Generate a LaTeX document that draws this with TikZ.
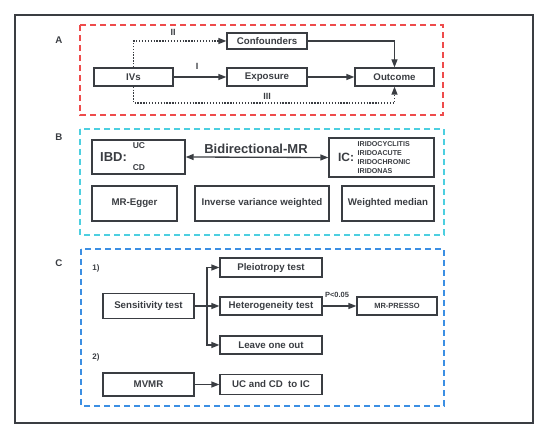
\documentclass[tikz,border=0pt]{standalone}
\usepackage{fontspec}
\setmainfont{Liberation Sans}
\usetikzlibrary{arrows.meta}
\definecolor{fr}{HTML}{3A3D42}
\definecolor{redd}{HTML}{EE4C4C}
\definecolor{cyand}{HTML}{4DCFE0}
\definecolor{blued}{HTML}{3C8FE3}
\begin{document}
\begin{tikzpicture}[x=1pt,y=-1pt,
  bx/.style={draw=fr,line width=1.3pt,inner sep=0pt,font=\fontsize{9.7}{11}\selectfont\bfseries,text=fr},
  lbl/.style={inner sep=0pt,font=\fontsize{9.7}{11}\selectfont\bfseries,text=fr},
  rn/.style={inner sep=0pt,font=\fontsize{9}{10}\rmfamily\bfseries,text=fr},
  con/.style={draw=fr,line width=1.3pt},
  arr/.style={con,-{Triangle[length=8pt,width=6pt]}},
  dotarr/.style={arr,dash pattern=on 1.3pt off 1.6pt},
  sect/.style={line width=1.5pt,dash pattern=on 6pt off 4pt}]
\useasboundingbox (0,0) rectangle (550,438);
\draw[fr,line width=1.3pt] (15,15) rectangle (533,423);
% section frames
\draw[sect,redd] (80,25) rectangle (443,115);
\draw[sect,cyand] (80,129) rectangle (444,235);
\draw[sect,blued] (81,249) rectangle (444,406);
\node[lbl] (lA) at (59,40) {A};
\node[lbl] (lB) at (59,137) {B};
\node[lbl] (lC) at (59,263) {C};
% ---- A
\node[bx,minimum width=79pt,minimum height=18pt] (ivs) at (133.5,77) {IVs};
\node[bx,minimum width=80pt,minimum height=18pt] (exp) at (267,77) {Exposure};
\node[bx,minimum width=79pt,minimum height=18pt] (out) at (394.5,77) {Outcome};
\node[bx,minimum width=80pt,minimum height=16pt] (conf) at (267,41) {Confounders};
\draw[arr] (ivs) -- (exp);
\draw[arr] (exp) -- (out);
\draw[arr] (conf.east) -| (out.north);
\draw[dotarr] (ivs.north) |- (conf.west);
\coordinate (b3) at (133.5,103);
\draw[dotarr] (ivs.south) -- (b3) -| (out.south);
\node[rn] (r1) at (197,66) {I};
\node[rn] (r2) at (173,32.5) {II};
\node[rn] (r3) at (267,96) {III};
% ---- B
\node[bx,minimum width=93pt,minimum height=34pt] (ibd) at (138.5,157) {};
\node[lbl,font=\fontsize{13}{15}\selectfont\bfseries] (ibdl) at (113.5,157) {IBD:};
\node[lbl,font=\fontsize{8.5}{10}\selectfont\bfseries] (uc) at (139,146) {UC};
\node[lbl,font=\fontsize{8.5}{10}\selectfont\bfseries] (cd) at (139,168) {CD};
\node[bx,minimum width=105pt,minimum height=39pt] (ic) at (381.5,157.5) {};
\node[lbl,font=\fontsize{12}{14}\selectfont\bfseries] (icl) at (346,157) {IC:};
\node[lbl,anchor=west,align=left,font=\fontsize{7.1}{9}\selectfont\bfseries] (icx) at (357.5,157.5) {IRIDOCYCLITIS\\IRIDOACUTE\\IRIDOCHRONIC\\IRIDONAS};
\draw[con,{Triangle[length=8pt,width=6pt]}-{Triangle[length=8pt,width=6pt]}] (ibd.east) -- (ic.west);
\node[lbl,font=\fontsize{13}{15}\selectfont\bfseries] (bid) at (256,149) {Bidirectional-MR};
\node[bx,minimum width=85pt,minimum height=35pt] (egg) at (134.5,203.5) {MR-Egger};
\node[bx,minimum width=134pt,minimum height=35pt] (ivw) at (262,203.5) {Inverse variance weighted};
\node[bx,minimum width=92pt,minimum height=35pt] (wm) at (388,203.5) {Weighted median};
% ---- C
\node[lbl,font=\fontsize{8}{9}\selectfont\bfseries] (n1) at (96,268) {1)};
\node[lbl,font=\fontsize{8}{9}\selectfont\bfseries] (n2) at (96,357) {2)};
\node[bx,minimum width=91pt,minimum height=25pt] (sens) at (148.5,306) {Sensitivity test};
\node[bx,minimum width=102pt,minimum height=19pt] (ple) at (271,267.5) {Pleiotropy test};
\node[bx,minimum width=102pt,minimum height=18pt] (het) at (271,306) {Heterogeneity test};
\node[bx,minimum width=102pt,minimum height=18pt] (loo) at (271,345) {Leave one out};
\node[bx,minimum width=80pt,minimum height=18pt,font=\fontsize{7.5}{9}\selectfont\bfseries] (mrp) at (397,306) {MR-PRESSO};
\node[bx,minimum width=91pt,minimum height=23pt] (mvmr) at (148.5,384.5) {MVMR};
\node[bx,minimum width=102pt,minimum height=20pt] (uccd) at (271,384.5) {UC and CD\ \ to IC};
\coordinate (br) at (207,306);
\draw[arr] (sens) -- (het);
\draw[arr] (br) |- (ple.west);
\draw[arr] (br) |- (loo.west);
\draw[arr] (het) -- (mrp);
\node[lbl,font=\fontsize{7.5}{9}\selectfont\bfseries] (pv) at (337,295) {P<0.05};
\draw[arr] (mvmr) -- (uccd);
\end{tikzpicture}
\end{document}
